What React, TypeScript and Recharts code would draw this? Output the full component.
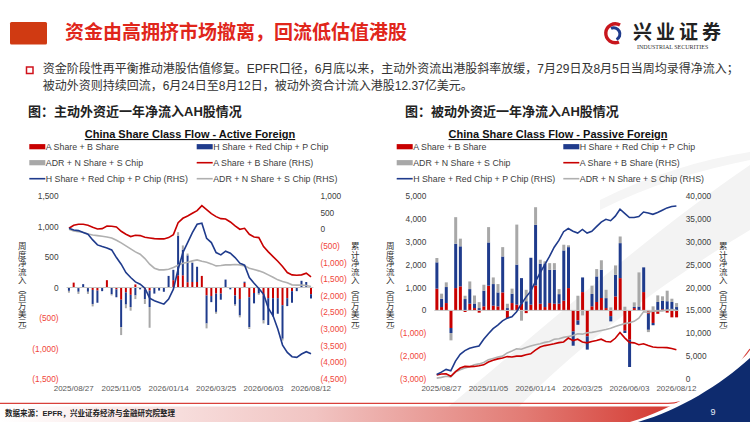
import React from 'react';
import { ComposedChart, Bar, Line, XAxis, YAxis, ReferenceLine } from 'recharts';

// weekly dates, 2025/08/20 .. 2026/08/12
const weeks = [
  '2025/08/20', '2025/08/27', '2025/09/03', '2025/09/10', '2025/09/17', '2025/09/24',
  '2025/10/01', '2025/10/08', '2025/10/15', '2025/10/22', '2025/10/29', '2025/11/05',
  '2025/11/12', '2025/11/19', '2025/11/26', '2025/12/03', '2025/12/10', '2025/12/17',
  '2025/12/24', '2025/12/31', '2026/01/07', '2026/01/14', '2026/01/21', '2026/01/28',
  '2026/02/04', '2026/02/11', '2026/02/18', '2026/02/25', '2026/03/04', '2026/03/11',
  '2026/03/18', '2026/03/25', '2026/04/01', '2026/04/08', '2026/04/15', '2026/04/22',
  '2026/04/29', '2026/05/06', '2026/05/13', '2026/05/20', '2026/05/27', '2026/06/03',
  '2026/06/10', '2026/06/17', '2026/06/24', '2026/07/01', '2026/07/08', '2026/07/15',
  '2026/07/22', '2026/07/29', '2026/08/05', '2026/08/12',
];
const xTickLabels = ['2025/08/27', '2025/11/05', '2026/01/14', '2026/03/25', '2026/06/03', '2026/08/12'];

// active foreign, weekly (USD mn)
const activeA = [-5, 80, -10, 0, -10, -40, -50, 0, 120, 0, -30, -200, -80, -120, 50, 0, -30, -50, 0, 0,
  0, 0, 120, 200, 200, 87, 90, 90, 190, -130, -140, -100, -100, 0, 0, -130, -190, 75, -160, -90,
  0, -130, -175, -175, -175, -290, -175, -60, 0, 0, 0, -110];
const activeH = [-50, 0, -60, 55, -60, -230, -200, -60, 0, -110, -130, -450, -200, -200, -130, -30, -160, -270, -100, -50,
  -70, 190, 170, 650, 420, 440, 315, 250, 0, -460, -100, -300, -100, 130, -30, -150, -270, 20, -490, -170,
  -100, -410, -440, -300, -255, -550, -130, -190, -60, 110, 90, -70];
const activeADR = [-30, 0, -35, 0, -35, -40, 0, 0, 0, -20, 0, -130, -60, -60, -60, 0, -80, -340, 0, 0,
  0, 0, 0, 57, 70, 30, 10, 0, 0, -80, 0, -30, 0, 0, 0, -20, -30, 0, -30, 0,
  -20, -50, 0, 0, 0, -30, 0, 0, 0, 0, 0, 0];
// active foreign, cumulative (RHS)
const activeCumA = [30, 120, 150, 150, 120, 60, 10, 20, 100, 90, 70, -60, -150, -220, -180, -190, -240, -260, -280, -290,
  -290, -250, -160, 200, 330, 400, 480, 560, 710, 590, 470, 380, 320, 310, 220, 100, 0, 30, -150, -230,
  -250, -520, -680, -820, -960, -1120, -1300, -1370, -1380, -1370, -1320, -1430];
const activeCumH = [30, -20, -40, -100, -150, -320, -470, -520, -560, -620, -850, -1050, -1300, -1450, -1580, -1650, -1770, -2070, -2150, -2200,
  -2250, -2100, -1800, -1200, -700, -400, -100, 150, 180, -270, -400, -700, -770, -660, -720, -850, -1020, -1080, -1450, -1620,
  -1780, -1950, -2370, -2600, -3000, -3480, -3700, -3830, -3850, -3750, -3680, -3740];
const activeCumADR = [0, -50, -70, -90, -140, -170, -190, -210, -230, -260, -330, -410, -500, -590, -680, -750, -880, -1050, -1170, -1220,
  -1220, -1200, -1150, -1080, -1020, -990, -950, -920, -960, -990, -1040, -1100, -1090, -1070, -1070, -1060, -1070, -1100, -1170, -1210,
  -1250, -1300, -1370, -1440, -1520, -1570, -1610, -1670, -1680, -1680, -1690, -1720];

// passive foreign, weekly (USD mn)
const passiveA = [950, 145, 320, -770, 975, 1050, -70, 290, 100, -100, 175, 1080, 205, 175, 785, -335, 320, 250, 290, -120,
  250, 1090, 290, 145, 320, 290, 290, 420, 975, -920, -440, 800, -1135, 175, 365, 540, 100, -250, 610, 1410,
  -890, -1280, 100, 0, 800, -150, -550, -150, 50, -100, -305, -305];
const passiveH = [1150, 365, 700, -220, 1935, 1750, 495, 640, 200, 100, 685, 1890, 945, 610, 1570, 100, 410, 1750, 1120, 400,
  2050, 2650, 1750, 1900, 1455, 1485, 420, 2200, 1790, -625, -190, 640, -580, 540, 1120, 1240, 435, -230, 945, 1530,
  -100, -1190, 50, 170, 1080, -700, -100, 365, 365, 400, 365, 145];
const passiveADR = [190, 220, 205, -320, 1165, 335, 145, 335, 350, 260, 260, 670, 290, 365, 410, 190, 220, 1750, -450, 500,
  0, 770, 175, 100, 290, 290, 220, 250, 80, 0, 640, -220, 0, 365, 320, 410, 365, 130, 410, 290,
  160, 0, 200, 1490, 0, -100, 175, 290, 200, 460, 145, 175];
// passive foreign, cumulative (RHS)
const passiveCumA = [900, 1100, 1150, 600, 1600, 2400, 2750, 2700, 2750, 2900, 3100, 3700, 4100, 4400, 4600, 4900, 4800, 5000, 5000, 5300,
  5500, 6300, 7000, 7300, 7500, 7700, 7950, 8100, 8950, 8400, 8700, 8100, 7900, 8200, 8400, 8700, 8200, 8100, 8900, 10150,
  9000, 8000, 7900, 7500, 7700, 7300, 7000, 6900, 6900, 6850, 6650, 6400];
const passiveCumH = [1000, 1500, 2100, 1800, 3900, 5400, 6200, 6700, 7000, 7200, 8700, 9900, 11000, 11800, 12700, 13300, 13600, 14700, 16400, 17900,
  19200, 21300, 23200, 25000, 26800, 28800, 30300, 32200, 32900, 32300, 31900, 32700, 31900, 32300, 33300, 34300, 34900, 34600, 35600, 37100,
  36200, 35300, 35300, 35500, 36500, 36300, 36000, 36400, 36900, 37400, 37700, 37800];
const passiveCumADR = [200, 350, 600, 450, 1500, 2000, 2400, 2700, 3100, 3300, 3600, 4200, 4500, 4800, 5000, 5700, 6100, 6600, 6500, 6900,
  7200, 7500, 7700, 8000, 8200, 8700, 8800, 9100, 9300, 9500, 9900, 9800, 10100, 10200, 10400, 10600, 10800, 11100, 11500, 11800,
  12100, 12300, 12600, 13300, 14700, 14600, 14800, 14900, 14900, 15100, 15200, 15000];

const activeLeftTicks = [-1500, -1000, -500, 0, 500, 1000, 1500];
const activeRightTicks = [-4500, -4000, -3500, -3000, -2500, -2000, -1500, -1000, -500, 0, 500, 1000];
const passiveLeftTicks = [-3000, -2000, -1000, 0, 1000, 2000, 3000, 4000, 5000];
const passiveRightTicks = [0, 5000, 10000, 15000, 20000, 25000, 30000, 35000, 40000];

const legendLabels = [
  'A Share + B Share', 'H Share + Red Chip + P Chip',
  'ADR + N Share + S Chip', 'A Share + B Share (RHS)',
  'H Share + Red Chip + P Chip (RHS)', 'ADR + N Share + S Chip (RHS)',
];

const RED = '#c80000';
const BLUE = '#1f3b8c';
const GRAY = '#a8a8a8';
const LINE_GRAY = '#b0b0b0';
const NEG = '#f0453a';
const SANS = "'Liberation Sans', Arial, sans-serif";
const CJK = "'Noto Sans CJK SC', sans-serif";
const MIXED = "'Liberation Sans', 'Noto Sans CJK SC', sans-serif";

const legendStyle = [
  { color: RED, bar: true }, { color: BLUE, bar: true },
  { color: GRAY, bar: true }, { color: RED, bar: false },
  { color: BLUE, bar: false }, { color: LINE_GRAY, bar: false },
];

const fmt = (v: number) => {
  const s = Math.abs(v).toLocaleString('en-US');
  return v < 0 ? `(${s})` : s;
};

const toRows = (a: number[], h: number[], adr: number[], ca: number[], ch: number[], cadr: number[]) =>
  weeks.map((week, i) => ({ week, a: a[i], h: h[i], adr: adr[i], ca: ca[i], ch: ch[i], cadr: cadr[i] }));

const activeRows = toRows(activeA, activeH, activeADR, activeCumA, activeCumH, activeCumADR);
const passiveRows = toRows(passiveA, passiveH, passiveADR, passiveCumA, passiveCumH, passiveCumADR);

const W = 375;
const H = 213;

function FlowChart({ rows, left, leftW, rightW, leftTicks, rightTicks, gap }: any) {
  const plotRight = W - rightW;
  const yTick = (x: number, anchor: string) => (p: any) => (
    <text x={x} y={p.y + 3} textAnchor={anchor} fontSize={8.3} fontFamily={SANS}
      fill={p.payload.value < 0 ? NEG : '#404040'}>{fmt(p.payload.value)}</text>
  );
  const xTick = (p: any) =>
    xTickLabels.includes(p.payload.value) ? (
      <text x={p.x} y={205} textAnchor="middle" fontSize={8} fontFamily={SANS} fill="#595959">{p.payload.value}</text>
    ) : <g />;
  return (
    <div style={{ position: 'absolute', left, top: 186 }}>
      <ComposedChart width={W} height={H} data={rows} stackOffset="sign" barCategoryGap={gap}
        margin={{ top: 10, right: 0, bottom: 0, left: 0 }}>
        <XAxis dataKey="week" height={20} axisLine={false} tickLine={false} interval={0} tick={xTick} />
        <YAxis yAxisId="l" orientation="left" width={leftW} domain={[leftTicks[0], leftTicks[leftTicks.length - 1]]}
          ticks={leftTicks} interval={0} axisLine={false} tickLine={false} allowDataOverflow tick={yTick(leftW - 8, 'end')} />
        <YAxis yAxisId="r" orientation="right" width={rightW} domain={[rightTicks[0], rightTicks[rightTicks.length - 1]]}
          ticks={rightTicks} interval={0} axisLine={false} tickLine={false} allowDataOverflow tick={yTick(plotRight + 7, 'start')} />
        <ReferenceLine yAxisId="l" y={0} stroke="#c4c4c4" strokeWidth={1} />
        <Bar yAxisId="l" dataKey="a" stackId="w" fill={RED} isAnimationActive={false} />
        <Bar yAxisId="l" dataKey="h" stackId="w" fill={BLUE} isAnimationActive={false} />
        <Bar yAxisId="l" dataKey="adr" stackId="w" fill={GRAY} isAnimationActive={false} />
        <Line yAxisId="r" dataKey="cadr" type="linear" stroke={LINE_GRAY} strokeWidth={1.6} dot={false} isAnimationActive={false} />
        <Line yAxisId="r" dataKey="ca" type="linear" stroke={RED} strokeWidth={1.6} dot={false} isAnimationActive={false} />
        <Line yAxisId="r" dataKey="ch" type="linear" stroke={BLUE} strokeWidth={1.6} dot={false} isAnimationActive={false} />
      </ComposedChart>
    </div>
  );
}

function Legend({ cols, title, titleX }: any) {
  const rows = [149.8, 165.8, 181.8];
  return (
    <g fontFamily={SANS}>
      <text x={titleX} y={138} textAnchor="middle" fontSize={11} fontWeight={700} fill="#111" textDecoration="underline">{title}</text>
      {legendLabels.map((label, i) => {
        const x = cols[i % 2];
        const y = rows[Math.floor(i / 2)] - 3.1;
        const st = legendStyle[i];
        return (
          <g key={label}>
            {st.bar
              ? <rect x={x} y={y - 2.6} width={16} height={5.2} fill={st.color} />
              : <line x1={x} x2={x + 16} y1={y} y2={y} stroke={st.color} strokeWidth={1.6} />}
            <text x={x + 16.5} y={y + 3.1} fontSize={8.8} fill="#404040">{label}</text>
          </g>
        );
      })}
    </g>
  );
}

const vTitle = (text: string, cx: number) => (
  <div style={{
    position: 'absolute', left: cx - 4.25, top: 242, writingMode: 'vertical-rl', fontSize: 8.5,
    lineHeight: 1, fontFamily: CJK, color: '#333', whiteSpace: 'nowrap',
  }}>{text}</div>
);

export default function App() {
  return (
    <div style={{ position: 'absolute', left: 0, top: 0, width: 750, height: 422, overflow: 'hidden', background: '#fff' }}>
      <svg width={750} height={422} style={{ position: 'absolute', left: 0, top: 0 }}>
        <defs>
          <linearGradient id="band" x1="0" x2="1" y1="0" y2="0">
            <stop offset="0" stopColor="#ffffff" />
            <stop offset="0.45" stopColor="#f1c4c2" />
            <stop offset="0.75" stopColor="#e27b74" />
            <stop offset="1" stopColor="#d12c24" />
          </linearGradient>
        </defs>
        <path d="M 430 422 C 530 340 640 240 750 165 L 750 230 C 650 290 560 360 505 422 Z" fill="#f3f3f3" />
        <path d="M 600 200 C 650 175 700 160 750 152 L 750 160 C 700 170 650 185 600 210 Z" fill="#f5f5f5" />
        <rect x={0} y={406.5} width={700} height={16} fill="url(#band)" />
        <path d="M 0 403.3 L 668 403.3 C 705 401 730 378 750 349" stroke="#d8403a" strokeWidth={1.2} fill="none" />
        <path d="M 630 422 C 674 409 716 382 750 352 L 750 422 Z" fill="#ffffff" />
        <path d="M 638 422 C 680 410 720 385 750 358 L 750 422 Z" fill="#0e2b6e" />
        <rect x={10} y={22} width={37} height={22.5} rx={1.5} fill="#d03a12" />
        <rect x={26.5} y={67} width={6.5} height={6.5} fill="none" stroke="#d0121b" strokeWidth={1.5} />
        <path d="M 620 25 A 9.5 9.5 0 1 0 619 42" stroke="#c8161d" strokeWidth={3.4} fill="none" />
        <path d="M 611 28.5 A 6 6 0 1 1 616.5 39.5" stroke="#1f3b8c" strokeWidth={3} fill="none" />
      </svg>

      <div style={{ position: 'absolute', left: 65, top: 21.4, fontSize: 19, lineHeight: 1, fontWeight: 700, fontFamily: CJK, color: '#e0261b', whiteSpace: 'nowrap' }}>
        资金由高拥挤市场撤离，回流低估值港股
      </div>
      <div style={{ position: 'absolute', left: 633, top: 21, fontSize: 19, lineHeight: 1, fontWeight: 700, fontFamily: CJK, color: '#222', letterSpacing: 4, whiteSpace: 'nowrap' }}>
        兴业证券
      </div>
      <div style={{ position: 'absolute', left: 637, top: 43.5, fontSize: 6, lineHeight: 1, fontFamily: "'Liberation Serif', serif", color: '#333', whiteSpace: 'nowrap' }}>
        INDUSTRIAL SECURITIES
      </div>
      <div style={{ position: 'absolute', left: 42.7, top: 60.6, fontSize: 12, lineHeight: '17.3px', fontFamily: MIXED, color: '#333', whiteSpace: 'nowrap' }}>
        资金阶段性再平衡推动港股估值修复。EPFR口径，6月底以来，主动外资流出港股斜率放缓，7月29日及8月5日当周均录得净流入；<br />
        被动外资则持续回流，6月24日至8月12日，被动外资合计流入港股12.37亿美元。
      </div>
      <div style={{ position: 'absolute', left: 28, top: 104.8, fontSize: 13, lineHeight: 1, fontWeight: 700, fontFamily: MIXED, color: '#222', whiteSpace: 'nowrap' }}>
        图：主动外资近一年净流入AH股情况
      </div>
      <div style={{ position: 'absolute', left: 405, top: 104.8, fontSize: 13, lineHeight: 1, fontWeight: 700, fontFamily: MIXED, color: '#222', whiteSpace: 'nowrap' }}>
        图：被动外资近一年净流入AH股情况
      </div>

      <FlowChart rows={activeRows} left={0} leftW={66.6} rightW={61.6}
        leftTicks={activeLeftTicks} rightTicks={activeRightTicks} gap="28%" />
      <FlowChart rows={passiveRows} left={375} leftW={59.35} rightW={71.25}
        leftTicks={passiveLeftTicks} rightTicks={passiveRightTicks} gap="22%" />

      <svg width={750} height={422} style={{ position: 'absolute', left: 0, top: 0, pointerEvents: 'none' }}>
        <Legend cols={[29.3, 196.7]} title="China Share Class Flow - Active Foreign" titleX={190} />
        <Legend cols={[396.7, 563.3]} title="China Share Class Flow - Passive Foreign" titleX={558} />
        <text x={5} y={416} fontSize={7.5} fontWeight={700} fontFamily={MIXED} fill="#222">数据来源：EPFR，兴业证券经济与金融研究院整理</text>
        <text x={713} y={415} fontSize={9} textAnchor="middle" fontFamily={SANS} fill="#e6ebf5">9</text>
      </svg>

      {vTitle('周度净流入（百万美元）', 22)}
      {vTitle('累计净流入（百万美元）', 355)}
      {vTitle('周度净流入（百万美元）', 390)}
      {vTitle('累计净流入（百万美元）', 723)}
    </div>
  );
}
